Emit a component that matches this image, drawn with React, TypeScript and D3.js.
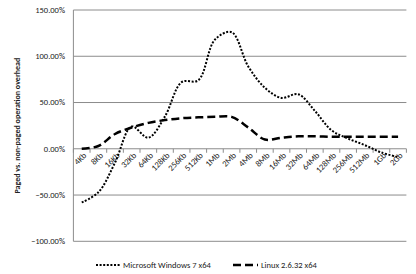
import React from "react"
import * as d3 from "d3"

const categories = ["4Kb", "8Kb", "16Kb", "32Kb", "64Kb", "128Kb", "256Kb", "512Kb", "1Mb", "2Mb", "4Mb", "8Mb", "16Mb", "32Mb", "64Mb", "128Mb", "256Mb", "512Mb", "1Gb", "2Gb"]
const windowsValues = [-58, -47, -15, 24, 12, 35, 72, 74, 118, 126, 89, 66, 55, 59, 41, 20, 11, 4, -4, -9]
const linuxValues = [0, 3, 16, 23, 28, 31, 33, 34, 34.5, 34.5, 23, 10, 12, 13.5, 13.5, 13, 13, 13, 13, 13]
const yTicks = [-100, -50, 0, 50, 100, 150]
const seriesNames = ["Microsoft Windows 7 x64", "Linux 2.6.32 x64"]

const W = 416
const H = 274
const font = "Calibri, Carlito, 'Liberation Sans', Arial, sans-serif"

export default function App() {
    const left = 73.4
    const right = 406.4
    const x = d3.scaleBand<string>().domain(categories).range([left, right])
    const y = d3.scaleLinear().domain([-100, 150]).range([241.3, 10])
    const cx = (c: string) => (x(c) as number) + x.bandwidth() / 2

    const line = d3
        .line<number>()
        .x((d, i) => cx(categories[i]))
        .y(d => y(d))
        .curve(d3.curveCatmullRom.alpha(0.5))

    const boundaries = d3.range(categories.length + 1).map(i => left + i * x.bandwidth())

    return (
        <svg width={W} height={H} style={{ position: "absolute", left: 0, top: 0, background: "#fff" }} fontFamily={font}>
            {yTicks.map(t => (
                <g key={t}>
                    {t !== 0 && <line x1={left} x2={right} y1={y(t)} y2={y(t)} stroke="#8c8c8c" strokeWidth={1} />}
                    <text x={65} y={y(t)} dy="0.35em" textAnchor="end" fontSize={8.5} fill="#222">
                        {d3.format(".2f")(t) + "%"}
                    </text>
                </g>
            ))}
            <line x1={left} x2={left} y1={y(150)} y2={y(-100)} stroke="#8c8c8c" />
            <line x1={left} x2={right} y1={y(0)} y2={y(0)} stroke="#8c8c8c" />
            {boundaries.map((b, i) => (
                <line key={i} x1={b} x2={b} y1={y(0)} y2={y(0) + 4} stroke="#8c8c8c" />
            ))}
            {categories.map(c => (
                <text
                    key={c}
                    transform={`translate(${cx(c) + 1},${y(0) + 3}) rotate(-45)`}
                    textAnchor="end"
                    dy="0.7em"
                    fontSize={8.5}
                    fill="#222"
                >
                    {c}
                </text>
            ))}
            <text
                transform={`translate(20,${y(25)}) rotate(-90)`}
                textAnchor="middle"
                fontSize={8}
                fontWeight="bold"
                fill="#222"
            >
                Paged vs. non-paged operation overhead
            </text>
            <path d={line(windowsValues) || ""} fill="none" stroke="#000" strokeWidth={2} strokeDasharray="2 1.6" />
            <path d={line(linuxValues) || ""} fill="none" stroke="#000" strokeWidth={2.5} strokeDasharray="8 4" />
            <g>
                <line x1={96} x2={121} y1={265} y2={265} stroke="#000" strokeWidth={2} strokeDasharray="2 1.6" />
                <text x={123} y={265} dy="0.35em" fontSize={8.5} fill="#222">{seriesNames[0]}</text>
                <line x1={233} x2={258} y1={265} y2={265} stroke="#000" strokeWidth={2.5} strokeDasharray="8 4" />
                <text x={261} y={265} dy="0.35em" fontSize={8.5} fill="#222">{seriesNames[1]}</text>
            </g>
        </svg>
    )
}
